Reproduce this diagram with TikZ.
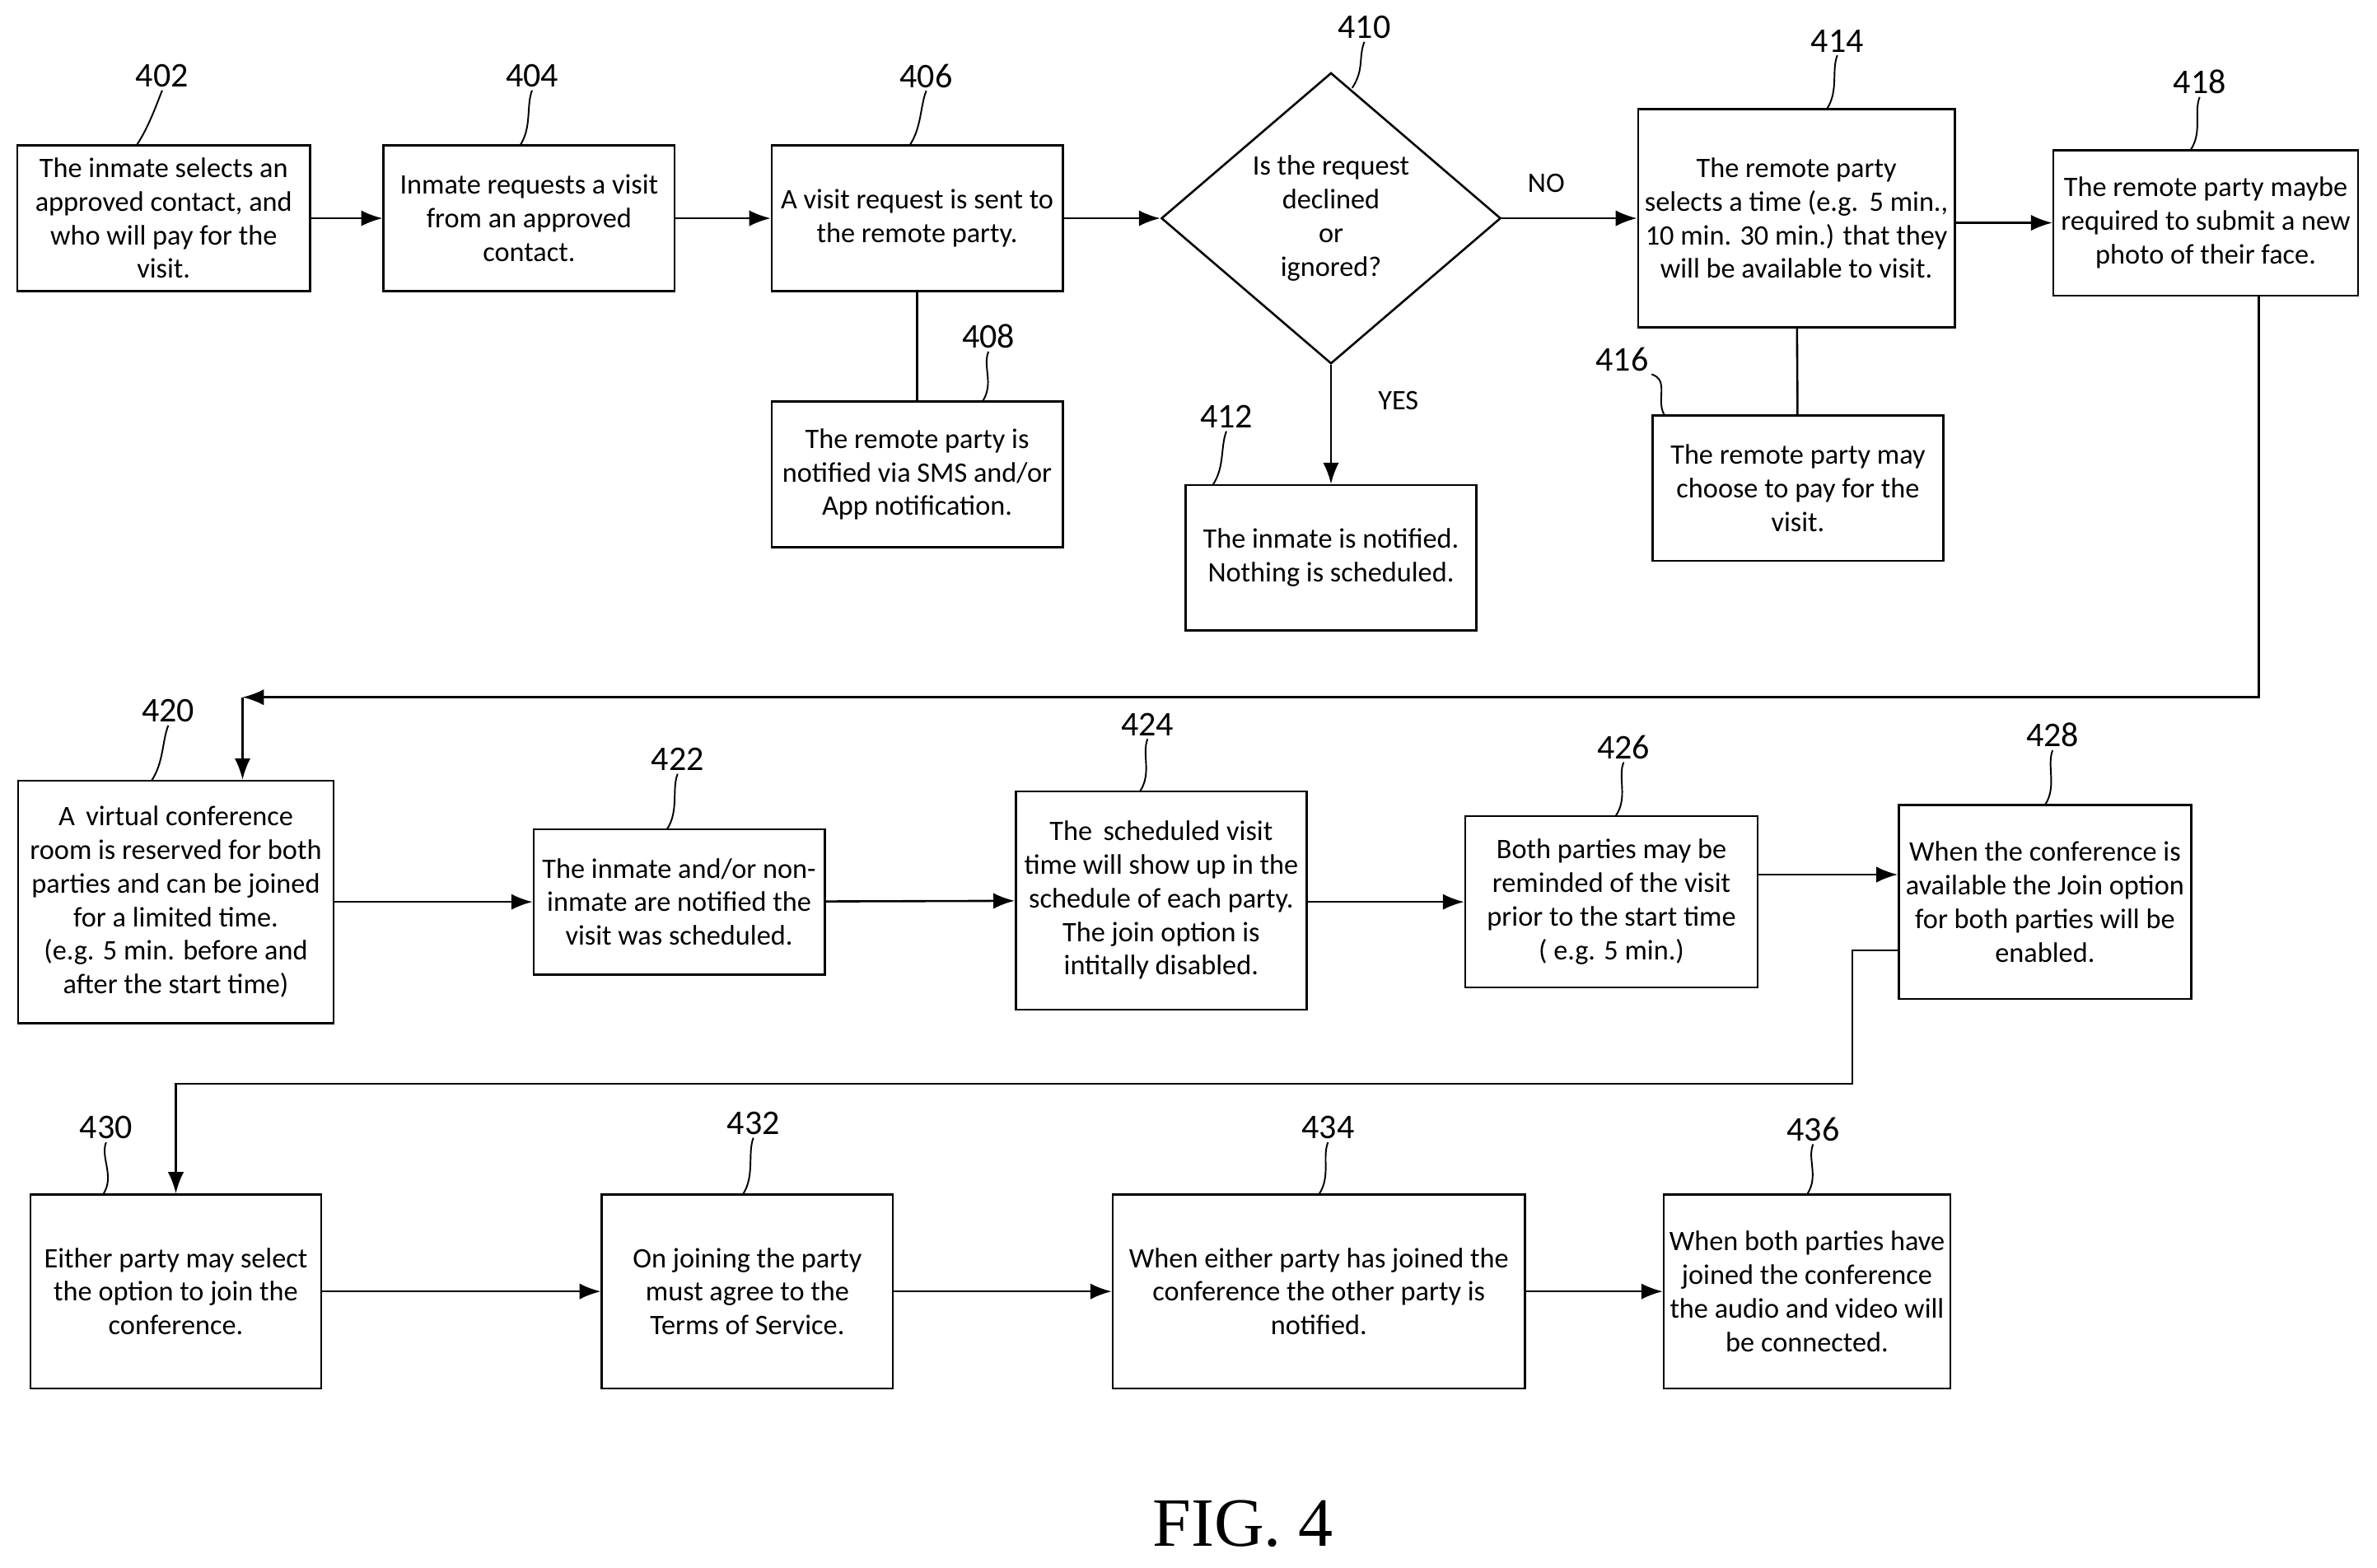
\documentclass[tikz,border=0pt]{standalone}
\usepackage{fontspec}
\setmainfont{Carlito}
\newfontfamily\figfont{Liberation Serif}
\usetikzlibrary{shapes.geometric, arrows.meta}

\begin{document}
\begin{tikzpicture}[x=0.02cm, y=-0.02cm,
    box/.style={draw, line width=0.8pt, inner sep=0pt, align=center,
      font=\fontsize{10.6}{12.6}\selectfont},
    num/.style={font=\fontsize{13}{15}\selectfont, inner sep=1pt},
    arr/.style={line width=0.8pt, -{Latex[length=8pt,width=6pt]}},
    lead/.style={line width=0.6pt}]
    \useasboundingbox (0,0) rectangle (1568,1034);

    % first row
    \node[box, minimum width=3.86cm, minimum height=1.92cm] (b402) at (108,144)
      {The inmate selects an\\approved contact, and\\who will pay for the\\visit.};
    \node[box, minimum width=3.84cm, minimum height=1.92cm] (b404) at (349,144)
      {Inmate requests a visit\\from an approved\\contact.};
    \node[box, minimum width=3.84cm, minimum height=1.92cm] (b406) at (605,144)
      {A visit request is sent to\\the remote party.};
    \node[box, minimum width=3.84cm, minimum height=1.92cm] (b408) at (605,313)
      {The remote party is\\notified via SMS and/or\\App notification.};
    \node[box, diamond, aspect=1.167, minimum width=4.48cm, minimum height=3.84cm] (b410) at (878,144)
      {Is the request\\declined\\or\\ignored?};
    \node[box, minimum width=3.84cm, minimum height=1.92cm] (b412) at (878,368)
      {The inmate is notified.\\Nothing is scheduled.};
    \node[box, minimum width=4.18cm, minimum height=2.88cm] (b414) at (1185,144)
      {The remote party\\selects a time (e.g.\ \,5 min.,\\10 min. 30 min.) that they\\will be available to visit.};
    \node[box, minimum width=3.84cm, minimum height=1.92cm] (b416) at (1186,322)
      {The remote party may\\choose to pay for the\\visit.};
    \node[box, minimum width=4.02cm, minimum height=1.92cm] (b418) at (1455,147)
      {The remote party maybe\\required to submit a new\\photo of their face.};

    % second row
    \node[box, minimum width=4.16cm, minimum height=3.2cm] (b420) at (116,595)
      {A \,virtual conference\\room is reserved for both\\parties and can be joined\\for a limited time.\\(e.g. 5 min. before and\\after the start time)};
    \node[box, minimum width=3.84cm, minimum height=1.92cm] (b422) at (448,595)
      {The inmate and/or non-\\inmate are notified the\\visit was scheduled.};
    \node[box, minimum width=3.84cm, minimum height=2.88cm] (b424) at (766,594)
      {The \,scheduled visit\\time will show up in the\\schedule of each party.\\The join option is\\intitally disabled.};
    \node[box, minimum width=3.86cm, minimum height=2.26cm] (b426) at (1063,595)
      {Both parties may be\\reminded of the visit\\prior to the start time\\( e.g. 5 min.)};
    \node[box, minimum width=3.86cm, minimum height=2.56cm] (b428) at (1349,595)
      {When the conference is\\available the Join option\\for both parties will be\\enabled.};

    % third row
    \node[box, minimum width=3.84cm, minimum height=2.56cm] (b430) at (116,852)
      {Either party may select\\the option to join the\\conference.};
    \node[box, minimum width=3.84cm, minimum height=2.56cm] (b432) at (493,852)
      {On joining the party\\must agree to the\\Terms of Service.};
    \node[box, minimum width=5.44cm, minimum height=2.56cm] (b434) at (870,852)
      {When either party has joined the\\conference the other party is\\notified.};
    \node[box, minimum width=3.78cm, minimum height=2.56cm] (b436) at (1192,852)
      {When both parties have\\joined the conference\\the audio and video will\\be connected.};

    % connectors
    \draw[arr] (b402) -- (b404);
    \draw[arr] (b404) -- (b406);
    \draw[arr] (b406) -- (b410);
    \draw[line width=0.8pt] (b406) -- (b408);
    \draw[arr] (b410.east) -- node[pos=0, above right=6pt, font=\fontsize{10.6}{12}\selectfont] {NO} (b414);
    \draw[arr] (b410.south) -- node[pos=0.3, right=14pt, font=\fontsize{10.6}{12}\selectfont] {YES} (b412);
    \draw[line width=0.8pt] (b414) -- (b416);
    \draw[arr] (b414.east |- b418) -- (b418);
    \coordinate (t1) at (1490,460);
    \coordinate (t2) at (160,460);
    \draw[arr] (b418.south -| t1) -- (t1) -- (t2);
    \draw[arr] (t2) -- (t2 |- b420.north);
    \draw[arr] (b420) -- (b422);
    \draw[arr] (b422) -- (b424);
    \draw[arr] (b424.east |- b426) -- (b426);
    \draw[arr] (b426.east |- 0,577) -- (b428.west |- 0,577);
    \coordinate (t3) at (1222,627);
    \coordinate (t4) at (1222,715);
    \coordinate (t5) at (116,715);
    \draw[arr] (b428.west |- t3) -- (t3) -- (t4) -- (t5) -- (b430);
    \draw[arr] (b430) -- (b432);
    \draw[arr] (b432) -- (b434);
    \draw[arr] (b434) -- (b436);

    % reference numbers
    \foreach \n/\x/\y/\ex/\ey in {402/107/50/90/96, 404/351/50/343/96, 406/611/50/600/96,
        408/652/222/648/265, 410/900/18/892/58, 412/809/275/800/320,
        414/1212/27/1205/72, 418/1451/54/1445/99, 420/111/469/100/515,
        422/447/501/440/547, 424/757/478/752/522, 426/1071/493/1066/538,
        428/1354/485/1349/531, 430/70/744/68/788, 432/497/741/490/788,
        434/876/744/870/788, 436/1196/745/1192/788} {
      \node[num] (n\n) at (\x,\y) {\n};
      \draw[lead] (n\n.south) .. controls +(-4,10) and +(8,-12) .. (\ex,\ey);
    }
    \node[num] (n416) at (1070,237) {416};
    \draw[lead] (n416.south east) .. controls +(12,4) and +(-6,-10) .. (1098,274);

    \node[font=\figfont\fontsize{26}{30}\selectfont] (fig) at (820,1005) {FIG. 4};
\end{tikzpicture}
\end{document}
